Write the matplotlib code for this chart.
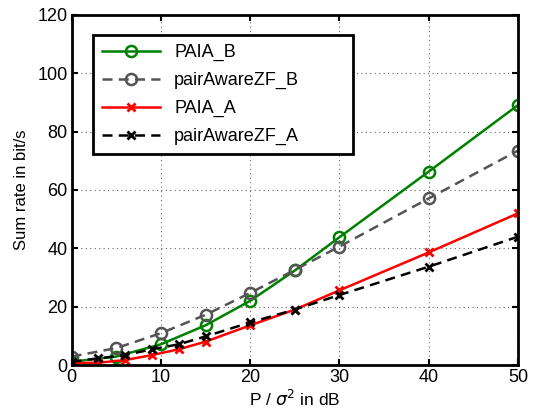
import numpy as np
import matplotlib.pyplot as plt

plt.rcParams['font.family'] = ['Liberation Sans', 'DejaVu Sans']
plt.rcParams['font.size'] = 11

# data
xB = [0, 5, 10, 15, 20, 25, 30, 40, 50]
paia_B = [1.1, 2.9, 7.1, 13.6, 22.0, 32.4, 43.8, 66.3, 89.1]
zf_B = [2.9, 5.8, 10.9, 17.2, 24.7, 32.6, 40.6, 57.1, 73.5]

xA = [0, 3, 6, 9, 12, 15, 20, 25, 30, 40, 50]
paia_A = [0.6, 0.8, 1.7, 3.4, 5.4, 8.0, 13.6, 19.0, 25.6, 38.6, 52.0]
zf_A = [1.1, 2.3, 3.4, 5.4, 7.1, 9.8, 14.6, 19.0, 24.0, 33.7, 44.0]

fig = plt.figure(figsize=(5.38, 4.12), dpi=100)
ax = fig.add_axes([0.133, 0.114, 0.830, 0.850])

dash = (0, (4, 2.5))
ax.plot(xB, paia_B, color=(0, 0.5, 0), lw=1.8, marker='o', ms=8,
        mfc='none', mew=1.8, label='PAIA_B')
ax.plot(xB, zf_B, color=(0.33, 0.33, 0.33), lw=1.8, ls=dash, marker='o', ms=8,
        mfc='none', mew=1.8, label='pairAwareZF_B')
ax.plot(xA, paia_A, color='red', lw=1.8, marker='x', ms=6, mew=2,
        label='PAIA_A')
ax.plot(xA, zf_A, color='black', lw=1.8, ls=dash, marker='x', ms=6, mew=2,
        label='pairAwareZF_A')

ax.set_xlim(0, 50)
ax.set_ylim(0, 120)
ax.set_xticks(np.arange(0, 51, 10))
ax.set_yticks(np.arange(0, 121, 20))
ax.grid(True, ls=(0, (1, 3)), color='black', lw=0.8, alpha=0.6)
ax.tick_params(direction='in', length=4, width=1.5, top=True, right=True,
               labelsize=13, pad=3)
for s in ax.spines.values():
    s.set_linewidth(2)

ax.set_xlabel(r'P / $\sigma^2$ in dB', fontsize=12.5, labelpad=2)
ax.set_ylabel('Sum rate in bit/s', fontsize=12, labelpad=6)

leg = ax.legend(loc='upper left', bbox_to_anchor=(0.048, 0.932, 0.583, 0.01),
                mode='expand', borderaxespad=0, fancybox=False, framealpha=1,
                edgecolor='black', fontsize=13, handlelength=3.2,
                borderpad=0.5, labelspacing=0.6)
leg.get_frame().set_linewidth(2)

fig.savefig('out.png', dpi=100)
